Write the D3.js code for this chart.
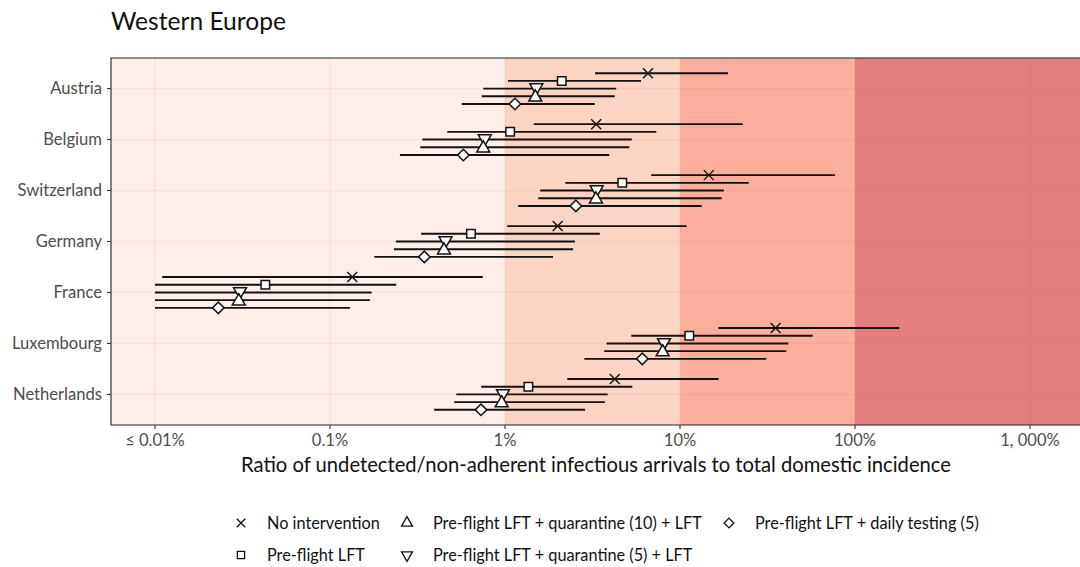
<!DOCTYPE html>
<html>
<head>
<meta charset="utf-8">
<script src="https://cdn.jsdelivr.net/npm/d3@7"></script>
<style>
  body { margin: 0; background: #fff; }
  svg { font-family: Lato, "Open Sans", sans-serif; display: block; }
</style>
</head>
<body>
<div id="chart"></div>
<script>
// data, values in percent
var countries = ["Austria", "Belgium", "Switzerland", "Germany", "France", "Luxembourg", "Netherlands"];
var scenarios = ["No intervention", "Pre-flight LFT", "Pre-flight LFT + quarantine (5) + LFT",
                 "Pre-flight LFT + quarantine (10) + LFT", "Pre-flight LFT + daily testing (5)"];

// [low, median, high] per country, one array per scenario
var noIntervention = [[3.27, 6.56, 18.8], [1.46, 3.32, 22.8], [6.85, 14.6, 76.9], [1.03, 2.00, 10.9],
                      [0.011, 0.134, 0.746], [16.6, 35.2, 179], [2.27, 4.24, 16.6]];
var preFlight = [[1.04, 2.11, 5.99], [0.468, 1.07, 7.32], [2.21, 4.68, 24.7], [0.332, 0.639, 3.48],
                 [0.01, 0.0427, 0.239], [5.27, 11.3, 57.3], [0.732, 1.36, 5.34]];
var quarantine5 = [[0.751, 1.51, 4.32], [0.337, 0.766, 5.30], [1.59, 3.34, 17.8], [0.238, 0.457, 2.51],
                   [0.01, 0.0306, 0.173], [3.81, 8.10, 41.6], [0.527, 0.974, 3.86]];
var quarantine10 = [[0.736, 1.49, 4.24], [0.328, 0.751, 5.13], [1.55, 3.31, 17.3], [0.232, 0.448, 2.45],
                    [0.01, 0.0301, 0.169], [3.69, 7.96, 40.5], [0.513, 0.957, 3.72]];
var dailyTesting = [[0.566, 1.14, 3.26], [0.251, 0.578, 3.94], [1.19, 2.54, 13.3], [0.179, 0.346, 1.88],
                    [0.01, 0.023, 0.130], [2.84, 6.09, 31.1], [0.394, 0.729, 2.87]];

var xTickValues = [0.01, 0.1, 1, 10, 100, 1000];
var xTickLabels = ["\u2264 0.01%", "0.1%", "1%", "10%", "100%", "1, 000%"];
var bandBreaks = [0.001, 1, 10, 100, 100000];

var bandColors = ["#fdeee9", "#fcd4c3", "#fbae9c", "#e47f81"];
var shapes = ["times", "square", "down", "up", "diamond"];

var width = 1080, height = 567;
var margin = {top: 58, right: -30, bottom: 142, left: 111};
var plotW = width - margin.left - margin.right;
var plotH = height - margin.top - margin.bottom;

var svg = d3.select("#chart").append("svg")
  .attr("width", width)
  .attr("height", height);

var x = d3.scaleLog().domain([0.01, 1000]).range([44, 919]);
var y = d3.scalePoint().domain(countries).range([0, plotH]).padding(0.6);
var dodge = d3.scalePoint().domain(scenarios).range([-15.4, 15.4]);

var series = [noIntervention, preFlight, quarantine5, quarantine10, dailyTesting];
var rows = [];
series.forEach(function(s, i) {
  s.forEach(function(v, j) {
    rows.push({country: countries[j], scenario: scenarios[i], shape: shapes[i], lo: v[0], mid: v[1], hi: v[2]});
  });
});

var defs = svg.append("defs");
defs.append("clipPath").attr("id", "clip")
  .append("rect").attr("width", plotW).attr("height", plotH);

var g = svg.append("g").attr("transform", `translate(${margin.left},${margin.top})`);
var inner = g.append("g").attr("clip-path", "url(#clip)");

// background bands
inner.selectAll("rect.band")
  .data(d3.range(bandColors.length))
  .enter().append("rect")
  .attr("class", "band")
  .attr("x", i => Math.max(-5, x(bandBreaks[i])))
  .attr("width", i => Math.min(plotW + 5, x(bandBreaks[i + 1])) - Math.max(-5, x(bandBreaks[i])))
  .attr("y", 0)
  .attr("height", plotH)
  .attr("fill", i => bandColors[i]);

// grid
inner.selectAll("line.vgrid")
  .data(xTickValues)
  .enter().append("line")
  .attr("x1", d => x(d)).attr("x2", d => x(d))
  .attr("y1", 0).attr("y2", plotH)
  .attr("stroke", "rgba(160,90,80,0.08)")
  .attr("stroke-width", 1.3);

inner.selectAll("line.hgrid")
  .data(countries)
  .enter().append("line")
  .attr("x1", 0).attr("x2", plotW)
  .attr("y1", d => y(d)).attr("y2", d => y(d))
  .attr("stroke", "rgba(160,90,80,0.08)")
  .attr("stroke-width", 1.3);

// error bars
inner.selectAll("line.err")
  .data(rows)
  .enter().append("line")
  .attr("x1", d => x(d.lo))
  .attr("x2", d => x(d.hi))
  .attr("y1", d => y(d.country) + dodge(d.scenario))
  .attr("y2", d => y(d.country) + dodge(d.scenario))
  .attr("stroke", "#111")
  .attr("stroke-width", 1.9);

function shapePath(shape, scale) {
  var k = scale || 1;
  if (shape === "times") {
    var r = 5 * k;
    return `M${-r},${-r}L${r},${r}M${-r},${r}L${r},${-r}`;
  }
  if (shape === "square") return d3.symbol(d3.symbolSquare, 72 * k * k)();
  if (shape === "diamond") return d3.symbol(d3.symbolSquare, 66 * k * k)();
  return d3.symbol(d3.symbolTriangle, 72 * k * k)();
}

function shapeRotate(shape) {
  if (shape === "diamond") return 45;
  if (shape === "down") return 180;
  return 0;
}

inner.selectAll("path.pt")
  .data(rows)
  .enter().append("path")
  .attr("d", d => shapePath(d.shape))
  .attr("transform", d => `translate(${x(d.mid)},${y(d.country) + dodge(d.scenario) + (d.shape === "up" ? 1 : d.shape === "down" ? -1 : 0)}) rotate(${shapeRotate(d.shape)})`)
  .attr("fill", d => d.shape === "times" ? "none" : "#fff")
  .attr("stroke", "#111")
  .attr("stroke-width", d => d.shape === "times" ? 1.4 : 1.5);

// panel border
g.append("path")
  .attr("d", `M${plotW + 10},0H0V${plotH}H${plotW + 10}`)
  .attr("fill", "none")
  .attr("stroke", "#222")
  .attr("stroke-width", 1.1);

// x axis
var xAxis = g.append("g").attr("transform", `translate(0,${plotH})`);
xAxis.selectAll("line")
  .data(xTickValues)
  .enter().append("line")
  .attr("x1", d => x(d)).attr("x2", d => x(d))
  .attr("y1", 0).attr("y2", 4)
  .attr("stroke", "#333").attr("stroke-width", 1.1);
xAxis.selectAll("text")
  .data(xTickValues)
  .enter().append("text")
  .attr("x", d => x(d))
  .attr("y", 21)
  .attr("text-anchor", "middle")
  .attr("font-size", "16.5px")
  .attr("fill", "#4d4d4d")
  .text((d, i) => xTickLabels[i]);

// y axis
var yAxis = g.append("g");
yAxis.selectAll("line")
  .data(countries)
  .enter().append("line")
  .attr("x1", -4).attr("x2", 0)
  .attr("y1", d => y(d)).attr("y2", d => y(d))
  .attr("stroke", "#333").attr("stroke-width", 1.1);
yAxis.selectAll("text")
  .data(countries)
  .enter().append("text")
  .attr("x", -9)
  .attr("y", d => y(d))
  .attr("dy", "0.35em")
  .attr("text-anchor", "end")
  .attr("font-size", "16.6px")
  .attr("fill", "#4d4d4d")
  .text(d => d);

// axis title
svg.append("text")
  .attr("x", 596)
  .attr("y", 472)
  .attr("text-anchor", "middle")
  .attr("font-size", "20.2px")
  .attr("fill", "#111")
  .text("Ratio of undetected/non-adherent infectious arrivals to total domestic incidence");

// title
svg.append("text")
  .attr("x", 111)
  .attr("y", 30)
  .attr("font-size", "24.6px")
  .attr("fill", "#111")
  .text("Western Europe");

// legend
var legendOrder = [0, 1, 3, 2, 4];
var legendCols = [241, 407, 729];
var legendRows = [523, 555];
var legend = svg.append("g");
legendOrder.forEach(function(si, k) {
  var cx = legendCols[Math.floor(k / 2)];
  var cy = legendRows[k % 2];
  var item = legend.append("g").attr("transform", `translate(${cx},${cy})`);
  item.append("path")
    .attr("d", shapePath(shapes[si], 0.85))
    .attr("transform", `rotate(${shapeRotate(shapes[si])})`)
    .attr("fill", "none")
    .attr("stroke", "#111")
    .attr("stroke-width", 1.3);
  item.append("text")
    .attr("x", 26)
    .attr("dy", "0.35em")
    .attr("font-size", "16.3px")
    .attr("fill", "#111")
    .text(scenarios[si]);
});
</script>
</body>
</html>
